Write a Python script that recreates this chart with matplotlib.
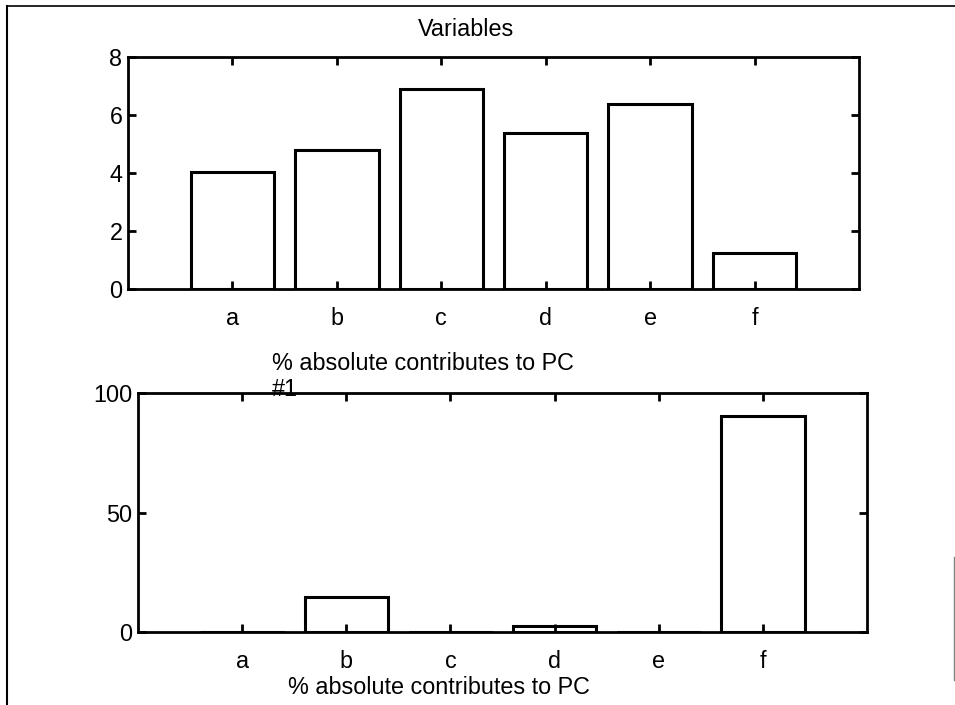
import matplotlib
matplotlib.use("Agg")
import matplotlib.pyplot as plt
from matplotlib.lines import Line2D

plt.rcParams["font.family"] = ["Liberation Sans", "DejaVu Sans"]
plt.rcParams["font.size"] = 16.8

# Data
variables = ["a", "b", "c", "d", "e", "f"]
variable_values = [4.05, 4.78, 6.9, 5.38, 6.38, 1.25]
pc1_contrib = [0, 14.6, 0, 2.5, 0, 90.5]
pc1_ticks = [0, 50, 100]

W, H = 955, 705
fig = plt.figure(figsize=(W / 100, H / 100), dpi=100)

positions = list(range(1, len(variables) + 1))


def style_axes(ax):
    for s in ax.spines.values():
        s.set_linewidth(2.0)
    ax.set_xlim(0, len(variables) + 1)
    ax.set_xticks(positions)
    ax.set_xticklabels(variables)
    ax.tick_params(direction="in", length=6, width=2, top=True, right=True)
    ax.tick_params(axis="x", pad=13)
    ax.tick_params(axis="y", pad=4)


# Top panel: variables
ax1 = fig.add_axes([128 / W, 1 - 289 / H, 731 / W, 232 / H])
ax1.bar(positions, variable_values, width=0.8, facecolor="white",
        edgecolor="black", linewidth=2.2)
ax1.set_ylim(0, 8)
ax1.set_yticks([0, 2, 4, 6, 8])
style_axes(ax1)
fig.text(466 / W, 1 - 30 / H, "Variables", ha="center", va="center")

# Bottom panel: % absolute contributions to PC #1
ax2 = fig.add_axes([138 / W, 1 - 632 / H, 729 / W, 239 / H])
ax2.bar(positions, pc1_contrib, width=0.8, facecolor="white",
        edgecolor="black", linewidth=2.2)
ax2.set_ylim(0, 100)
ax2.set_yticks(pc1_ticks)
style_axes(ax2)
fig.text(272 / W, 1 - 364 / H, "% absolute contributes to PC", ha="left", va="center")
fig.text(272 / W, 1 - 390 / H, "#1", ha="left", va="center")
fig.text(288 / W, 1 - 687 / H, "% absolute contributes to PC", ha="left", va="center")

# Scanned page border
fig.add_artist(Line2D([7 / W, 7 / W], [0, 1 - 6 / H], transform=fig.transFigure,
                      color="black", lw=1.5))
fig.add_artist(Line2D([7 / W, 1], [1 - 6 / H, 1 - 6 / H], transform=fig.transFigure,
                      color="black", lw=1.2))
fig.add_artist(Line2D([954 / W, 954 / W], [1 - 557 / H, 1 - 680 / H],
                      transform=fig.transFigure, color="gray", lw=1))

fig.savefig("out.png", dpi=100)
